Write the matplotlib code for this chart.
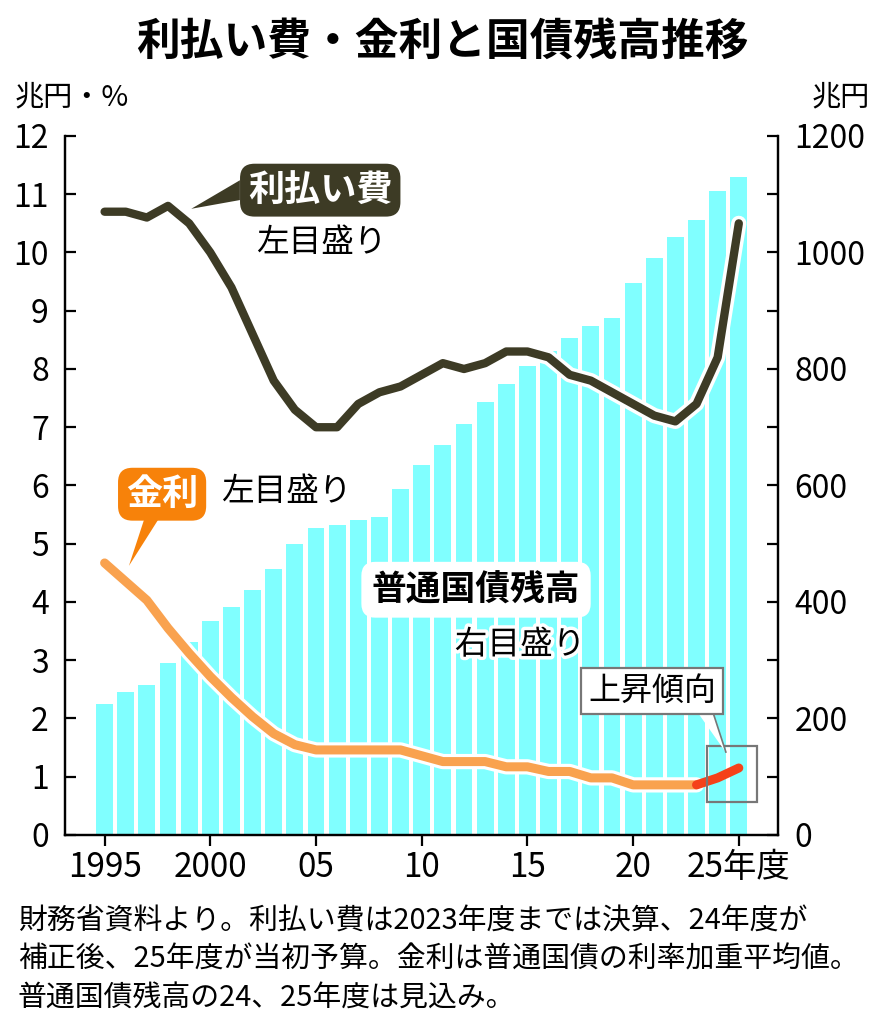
import matplotlib.pyplot as plt
import matplotlib.patheffects as pe
from matplotlib.patches import Polygon, Rectangle

plt.rcParams['font.family'] = ['Noto Sans CJK JP', 'DejaVu Sans']

years = list(range(1995, 2026))
# 普通国債残高 (兆円, right axis)
debt = [225, 245, 258, 295, 332, 368, 392, 421, 457, 499,
        527, 532, 541, 546, 594, 636, 670, 705, 744, 774,
        805, 831, 853, 874, 887, 947, 991, 1027, 1056, 1105, 1129]
# 利払い費 (兆円, left axis)
interest = [10.7, 10.7, 10.6, 10.8, 10.5, 10.0, 9.4, 8.6, 7.8, 7.3,
            7.0, 7.0, 7.4, 7.6, 7.7, 7.9, 8.1, 8.0, 8.1, 8.3,
            8.3, 8.2, 7.9, 7.8, 7.6, 7.4, 7.2, 7.1, 7.4, 8.2, 10.5]
# 金利 (%, left axis)
rate = [4.67, 4.35, 4.03, 3.55, 3.12, 2.72, 2.36, 2.03, 1.74, 1.55,
        1.46, 1.46, 1.46, 1.46, 1.46, 1.36, 1.26, 1.26, 1.26, 1.17,
        1.17, 1.09, 1.09, 0.98, 0.98, 0.86, 0.86, 0.86, 0.86, 0.98, 1.15]
rise_from = 2023

xticks = [1995, 2000, 2005, 2010, 2015, 2020, 2025]
xticklabels = ['1995', '2000', '05', '10', '15', '20', '25年度']

dark = '#3d3b25'
cyan = '#80ffff'
orange_box = '#f7820a'
orange_line = '#f9a24f'
red_line = '#f5411a'

fig = plt.figure(figsize=(8.85, 10.24), dpi=100)
ax = fig.add_axes([0.074, 0.1846, 0.805, 0.6826])
ax2 = ax.twinx()
ax.set_zorder(ax2.get_zorder() + 1)
ax.patch.set_visible(False)

ax2.bar(years, debt, width=0.8, color=cyan, linewidth=0)
ax2.set_ylim(0, 1200)

outline = [pe.Stroke(linewidth=11, foreground='white'), pe.Normal()]
ax.plot(years, interest, color=dark, lw=6, solid_capstyle='round',
        solid_joinstyle='round', path_effects=outline, zorder=5)

i = years.index(rise_from)
ax.plot(years[:i + 1], rate[:i + 1], color=orange_line, lw=6.5,
        solid_capstyle='round', solid_joinstyle='round',
        path_effects=outline, zorder=4)
ax.plot(years[i:], rate[i:], color=red_line, lw=6.5,
        solid_capstyle='round', solid_joinstyle='round', zorder=4.5)

ax.set_xlim(1993.15, 2026.85)
ax.set_ylim(0, 12)
ax.set_yticks(range(0, 13))
ax2.set_yticks(range(0, 1201, 100))
ax2.set_yticklabels([str(v) if v % 200 == 0 else '' for v in range(0, 1201, 100)])
ax.set_xticks(xticks)
ax.set_xticklabels(xticklabels)

for a in (ax, ax2):
    a.spines['top'].set_visible(False)
    for s in ('left', 'right', 'bottom'):
        a.spines[s].set_linewidth(1.6)
ax.tick_params(axis='y', direction='in', length=8, width=1.6, labelsize=23, pad=12)
ax2.tick_params(axis='y', direction='in', length=8, width=1.6, labelsize=23, pad=12)
ax.tick_params(axis='x', direction='out', length=8, width=1.6, labelsize=24, pad=3)

# title and unit labels
fig.text(0.5, 0.958, '利払い費・金利と国債残高推移', ha='center', va='center',
         fontsize=31.5, fontweight='bold')
fig.text(0.017, 0.905, '兆円・%', ha='left', va='center', fontsize=21)
fig.text(0.983, 0.905, '兆円', ha='right', va='center', fontsize=21)

# callouts
ax.text(2005.2, 11.07, '利払い費', ha='center', va='center', fontsize=26,
        fontweight='bold', color='white', zorder=7,
        bbox=dict(boxstyle='round,pad=0.22,rounding_size=0.4', fc=dark, ec='none'))
ax.add_patch(Polygon([(2001.4, 11.24), (2001.4, 10.90), (1999.1, 10.75)],
                     closed=True, fc=dark, ec='none', zorder=6))
ax.text(2005.25, 10.16, '左目盛り', ha='center', va='center', fontsize=23.5, zorder=7)

ax.text(1997.72, 5.85, '金利', ha='center', va='center', fontsize=26,
        fontweight='bold', color='white', zorder=7,
        bbox=dict(boxstyle='round,pad=0.22,rounding_size=0.4', fc=orange_box, ec='none'))
ax.add_patch(Polygon([(1996.9, 5.45), (1997.6, 5.45), (1996.15, 4.62)],
                     closed=True, fc=orange_box, ec='none', zorder=6))
ax.text(2003.6, 5.89, '左目盛り', ha='center', va='center', fontsize=23.5, zorder=7)

ax.text(2012.57, 4.21, '普通国債残高', ha='center', va='center', fontsize=25,
        fontweight='bold', zorder=7,
        bbox=dict(boxstyle='round,pad=0.3,rounding_size=0.4', fc='white', ec='none'))
ax.text(2014.65, 3.26, '右目盛り', ha='center', va='center', fontsize=23.5, zorder=7,
        path_effects=[pe.withStroke(linewidth=5, foreground='white')])

ax.text(2020.9, 2.47, '上昇傾向', ha='center', va='center', fontsize=23, zorder=8,
        bbox=dict(boxstyle='square,pad=0.22', fc='white', ec='#777777', lw=1.6))
ax.add_patch(Polygon([(2023.1, 2.08), (2023.8, 2.08), (2024.4, 1.41)],
                     closed=False, fc='white', ec='#777777', lw=1.2, zorder=7))
ax.add_patch(Rectangle((2023.5, 0.57), 2.36, 0.96, fill=False, ec='#777777',
                       lw=1.6, zorder=6))

notes = ['財務省資料より。利払い費は2023年度までは決算、24年度が',
         '補正後、25年度が当初予算。金利は普通国債の利率加重平均値。',
         '普通国債残高の24、25年度は見込み。']
for k, line in enumerate(notes):
    fig.text(0.02, 0.1 - k * 0.0375, line, ha='left', va='center', fontsize=20.8)

fig.savefig('out.png', dpi=100)
